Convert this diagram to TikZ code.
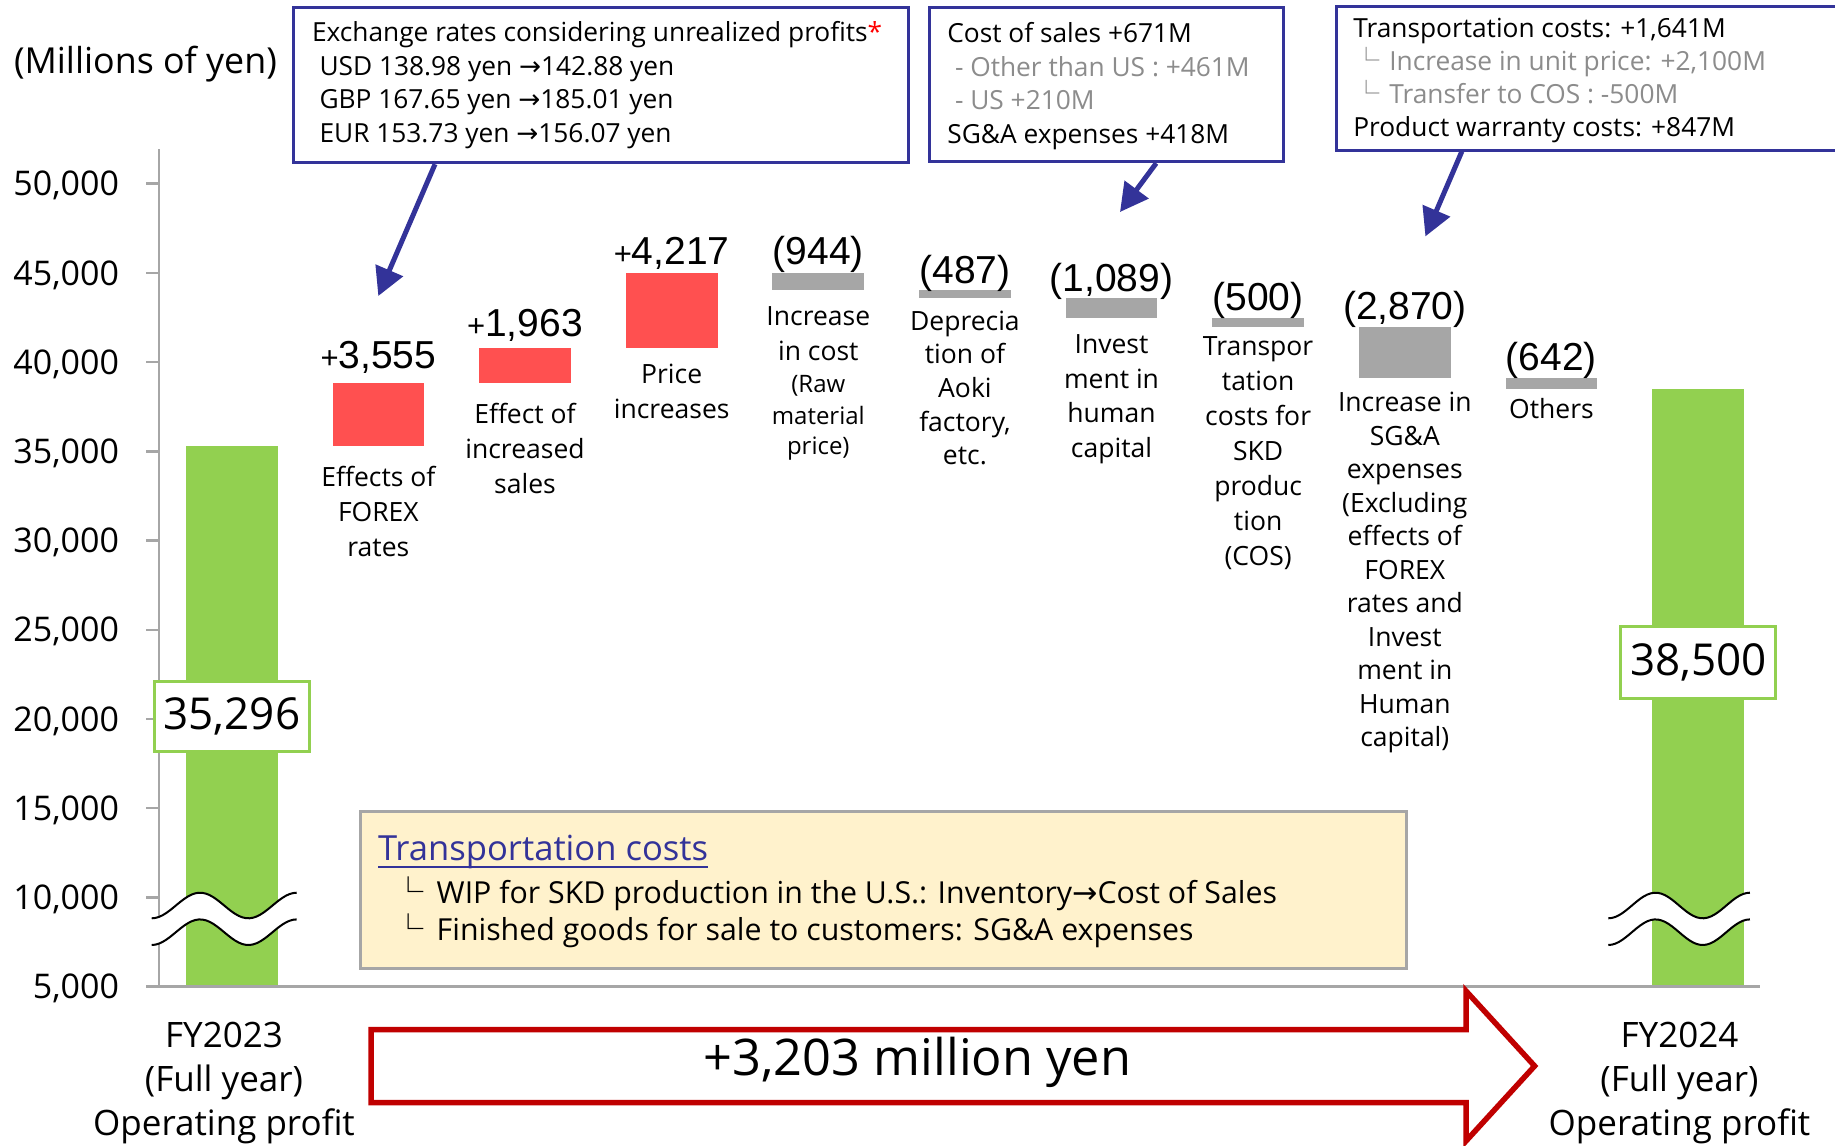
\documentclass[tikz,border=0pt]{standalone}
\usepackage{fontspec}
\setmainfont{Open Sans}
\newfontfamily\libs{Liberation Sans}
\newfontfamily\djv{DejaVu Sans}
\newfontfamily\cjk{Noto Sans CJK JP}
\usetikzlibrary{arrows.meta}
\definecolor{mygreen}{HTML}{92D050}
\definecolor{myred}{HTML}{FF5050}
\definecolor{mygray}{HTML}{A6A6A6}
\definecolor{myblue}{RGB}{51,51,153}
\definecolor{arrred}{HTML}{C00000}
\definecolor{noteyel}{HTML}{FFF2CC}
\definecolor{txtgray}{HTML}{8C8C8C}
\newcommand{\fsz}[2]{\fontsize{#1}{#2}\selectfont}
\newcommand{\cornr}{{\cjk └}}
\newcommand{\myarr}{{\djv →}}
\newcommand{\smplus}{{\fsz{31}{31}+}}
\tikzset{
  bluebox/.style={draw=myblue, line width=3pt, fill=white, inner sep=0pt, anchor=north west},
  txt/.style={inner sep=0pt, outer sep=0pt},
  boxtxt/.style={txt, anchor=base west, align=left, font=\fsz{26.3}{33.5}},
  catlbl/.style={txt, anchor=base, align=center, font=\fsz{26.5}{35}},
  vallbl/.style={txt, anchor=base, font=\libs\fsz{39}{39}},
  ticklbl/.style={txt, anchor=base east, font=\fsz{34}{34}},
  fylbl/.style={txt, anchor=base, align=center, font=\fsz{35}{44}},
  callarrow/.style={draw=myblue, line width=5pt, -{Triangle[length=28pt,width=29pt]}},
  numbox/.style={draw=mygreen, line width=3pt, fill=white, inner sep=0pt, font=\fsz{44}{44}},
  axisline/.style={draw=mygray, line width=2.5pt},
  breakline/.style={draw=black, line width=2pt},
}
\begin{document}
\begin{tikzpicture}[x=1pt,y=-1pt]
\useasboundingbox (0,0) rectangle (1835,1145);
\begin{scope}
\clip (0,0) rectangle (1835,1145);
% bars
\fill[mygreen] (185.9,446.4) rectangle (277.7,986.6);
\fill[myred] (332.5,383.0) rectangle (424.3,446.4);
\fill[myred] (479.1,348.0) rectangle (570.9,383.0);
\fill[myred] (625.8,272.8) rectangle (717.6,348.0);
\fill[mygray] (772.4,272.8) rectangle (864.2,289.6);
\fill[mygray] (919.0,289.6) rectangle (1010.8,298.3);
\fill[mygray] (1065.6,298.3) rectangle (1157.4,317.7);
\fill[mygray] (1212.2,317.7) rectangle (1304.0,326.6);
\fill[mygray] (1358.9,326.6) rectangle (1450.7,377.8);
\fill[mygray] (1505.5,377.8) rectangle (1597.3,389.2);
\fill[mygreen] (1652.1,389.2) rectangle (1743.9,986.6);
% axes
\draw[axisline] (159,149) -- (159,986.6);
\draw[axisline] (146,986.6) -- (1760,986.6);
\foreach \lab [count=\k from 0] in {{50,000},{45,000},{40,000},{35,000},{30,000},{25,000},{20,000},{15,000},{10,000},{5,000}} {
  \draw[axisline] (146,{183.7+89.21*\k}) -- (159,{183.7+89.21*\k});
  \node[ticklbl] (tick\k) at (119,{195.8+89.21*\k}) {\lab};
}
\node[txt, anchor=base west, font=\fsz{35.8}{35.8}] (unit) at (14,73.5) {(Millions of yen)};
% break marks
\foreach \bx/\st in {151.7/48.33, 1608.3/47.2} {
  \fill[white] plot[domain=0:3,samples=41] ({\bx+\x*\st},{905.5+12.8*cos(\x*180)}) -- plot[domain=3:0,samples=41] ({\bx+\x*\st},{932.2+12.8*cos(\x*180)}) -- cycle;
  \draw[breakline] plot[domain=0:3,samples=41] ({\bx+\x*\st},{905.5+12.8*cos(\x*180)});
  \draw[breakline] plot[domain=0:3,samples=41] ({\bx+\x*\st},{932.2+12.8*cos(\x*180)});
}
% total boxes
\node[numbox, minimum width=155.3pt, minimum height=70.4pt] (v2023) at (231.85,716.3) {35,296};
\node[numbox, minimum width=155pt, minimum height=72pt] (v2024) at (1698.3,662.5) {38,500};
% value labels
\node[vallbl] (d1) at (378.4,368.3) {\smplus3,555};
\node[vallbl] (d2) at (525.0,336.7) {\smplus1,963};
\node[vallbl] (d3) at (671.7,264.3) {\smplus4,217};
\node[vallbl] (d4) at (818.3,264.3) {(944)};
\node[vallbl] (d5) at (964.9,283.3) {(487)};
\node[vallbl] (d6) at (1111.5,291.7) {(1,089)};
\node[vallbl] (d7) at (1258.1,310) {(500)};
\node[vallbl] (d8) at (1404.8,319.3) {(2,870)};
\node[vallbl] (d9) at (1551.4,370) {(642)};
% category labels (anchored at the baseline of their last line)
\node[catlbl] (c1) at (378.4,556.7) {Effects of\\FOREX\\rates};
\node[catlbl] (c2) at (525.0,493.3) {Effect of\\increased\\sales};
\node[catlbl] (c3) at (671.7,418.3) {Price\\increases};
\node[catlbl] (c4) at (818.3,454) {Increase\\in cost\\[-3pt]\fsz{24}{30}(Raw\\[-3pt]\fsz{24}{30}material\\[-5pt]\fsz{24}{30}price)};
\node[catlbl, font=\fsz{26.5}{33.7}] (c5) at (964.9,464.8) {Deprecia\\tion of\\Aoki\\factory,\\etc.};
\node[catlbl, font=\fsz{26.5}{34.7}] (c6) at (1111.5,457.4) {Invest\\ment in\\human\\capital};
\node[catlbl] (c7) at (1258.1,565) {Transpor\\tation\\costs for\\SKD\\produc\\tion\\(COS)};
\node[catlbl, font=\fsz{26.5}{33.5}] (c8) at (1404.8,746.7) {Increase in\\SG\&A\\expenses\\(Excluding\\effects of\\FOREX\\rates and\\Invest\\ment in\\Human\\capital)};
\node[catlbl] (c9) at (1551.4,418.3) {Others};
% note box
\node[draw=mygray, line width=3pt, fill=noteyel, minimum width=1045.8pt, minimum height=157pt, anchor=north west, inner sep=0pt] (note) at (358.7,809.8) {};
\node[txt, anchor=base west, font=\fsz{34.6}{34.6}, text=myblue] (notehead) at (378,860) {Transportation costs};
\draw[myblue, line width=2pt] ([yshift=-6.7pt]notehead.base west) -- ([yshift=-6.7pt]notehead.base east);
\node[txt, anchor=base west, align=left, font=\fsz{30.3}{36.7}] (notebody) at (393.9,940) {\cornr\hspace{12.5pt}WIP for SKD production in the U.S.: Inventory\myarr Cost of Sales\\\cornr\hspace{12.5pt}Finished goods for sale to customers: SG\&A expenses};
% FY labels
\node[fylbl] (fy23) at (224,1135) {FY2023\\(Full year)\\Operating profit};
\node[fylbl] (fy24) at (1679.5,1135) {FY2024\\(Full year)\\Operating profit};
% big arrow
\draw[draw=arrred, line width=5.5pt, fill=white, line join=miter] (371,1029.5) -- (1466,1029.5) -- (1466,991) -- (1534.6,1066) -- (1466,1141) -- (1466,1102.5) -- (371,1102.5) -- cycle;
\node[txt, anchor=base, font=\fsz{50.5}{50.5}] (total) at (917.5,1075) {+3,203 million yen};
% callout boxes
\node[bluebox, minimum width=615.4pt, minimum height=154.7pt] (box1) at (291.7,6.5) {};
\node[boxtxt] (box1txt) at (312,142.2) {Exchange rates considering unrealized profits{\color{red}*}\\\hspace{7.5pt}USD 138.98 yen \myarr 142.88 yen\\\hspace{7.5pt}GBP 167.65 yen \myarr 185.01 yen\\\hspace{7.5pt}EUR 153.73 yen \myarr 156.07 yen};
\coordinate (tip1) at (378.3,296);
\draw[callarrow] ([xshift=143.3pt]box1.south west) -- (tip1);
\node[bluebox, minimum width=353.6pt, minimum height=153.7pt] (box2) at (928.2,6.5) {};
\node[boxtxt] (box2txt) at (947.3,143.2) {Cost of sales +671M\\{\color{txtgray}\hspace{7.7pt}- Other than US : +461M}\\{\color{txtgray}\hspace{7.7pt}- US +210M}\\SG\&A expenses +418M};
\coordinate (tip2) at (1120,212);
\draw[callarrow] ([xshift=228pt]box2.south west) -- (tip2);
\node[bluebox, minimum width=560pt, minimum height=143pt] (box3) at (1334.8,5.5) {};
\node[boxtxt, font=\fsz{26.3}{33.1}] (box3txt) at (1353.3,136.6) {Transportation costs: +1,641M\\{\color{txtgray}\cornr\hspace{9.7pt}Increase in unit price: +2,100M}\\{\color{txtgray}\cornr\hspace{9.7pt}Transfer to COS : -500M}\\Product warranty costs: +847M};
\coordinate (tip3) at (1425.4,236.4);
\draw[callarrow] ([xshift=127pt]box3.south west) -- (tip3);
\end{scope}
\end{tikzpicture}
\end{document}
